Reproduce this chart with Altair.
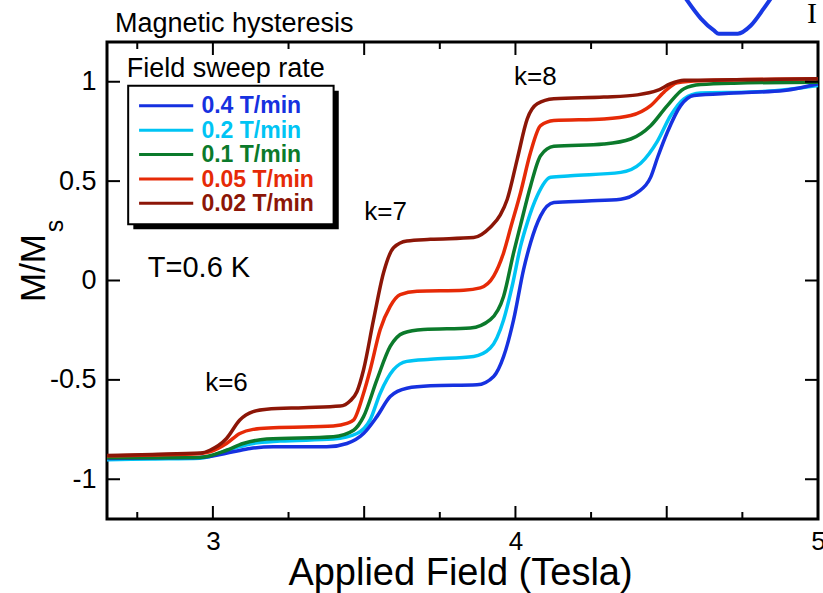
import altair as alt
import pandas as pd

FONT = "Liberation Sans"
W, H = 711, 477
X_DOMAIN = [2.65, 5.0]
Y_DOMAIN = [-1.2, 1.2]

# Sweep rates and their colours
rates = ["0.4 T/min", "0.2 T/min", "0.1 T/min", "0.05 T/min", "0.02 T/min"]
colors = ["#1631e0", "#00c4f4", "#0b7a2b", "#e62a07", "#8c1607"]

# Magnetisation curves M/Ms vs applied field (T)
field_04 = [2.65, 2.80, 2.957, 3.067, 3.123, 3.20, 3.376, 3.443, 3.498, 3.542, 3.586, 3.641,
            3.719, 3.873, 3.928, 3.961, 3.994, 4.027, 4.050, 4.083, 4.127, 4.237, 4.348, 4.403,
            4.447, 4.470, 4.502, 4.546, 4.590, 4.722, 4.888, 5.0]
m_04 = [-0.895, -0.893, -0.890, -0.862, -0.845, -0.837, -0.837, -0.820, -0.770, -0.685, -0.584, -0.542,
        -0.530, -0.525, -0.483, -0.382, -0.197, 0.056, 0.190, 0.325, 0.392, 0.400, 0.409, 0.443,
        0.520, 0.620, 0.746, 0.880, 0.931, 0.943, 0.956, 0.990]

field_02 = [2.65, 2.80, 2.957, 3.067, 3.133, 3.222, 3.398, 3.476, 3.520, 3.553, 3.597, 3.641,
            3.719, 3.862, 3.917, 3.961, 3.989, 4.017, 4.039, 4.072, 4.116, 4.182, 4.348, 4.414,
            4.469, 4.513, 4.557, 4.612, 4.778, 4.899, 5.0]
m_02 = [-0.902, -0.898, -0.894, -0.845, -0.820, -0.808, -0.798, -0.770, -0.700, -0.567, -0.449, -0.407,
        -0.396, -0.382, -0.340, -0.197, -0.029, 0.173, 0.290, 0.426, 0.519, 0.527, 0.544, 0.590,
        0.700, 0.830, 0.914, 0.943, 0.948, 0.961, 0.981]

field_01 = [2.65, 2.80, 2.957, 3.045, 3.100, 3.178, 3.398, 3.465, 3.498, 3.542, 3.586, 3.630,
            3.696, 3.851, 3.917, 3.961, 3.994, 4.017, 4.050, 4.083, 4.127, 4.292, 4.381, 4.447,
            4.502, 4.557, 4.612, 4.722, 5.0]
m_01 = [-0.892, -0.892, -0.890, -0.854, -0.820, -0.798, -0.786, -0.753, -0.685, -0.500, -0.332, -0.264,
        -0.247, -0.239, -0.197, -0.079, 0.140, 0.280, 0.476, 0.628, 0.675, 0.687, 0.712, 0.779,
        0.880, 0.965, 0.986, 0.993, 0.998]

field_005 = [2.65, 2.80, 2.96, 2.99, 3.045, 3.089, 3.133, 3.20, 3.398, 3.443, 3.465, 3.498,
             3.520, 3.553, 3.586, 3.619, 3.675, 3.829, 3.884, 3.928, 3.961, 3.985, 4.017, 4.050,
             4.083, 4.127, 4.292, 4.381, 4.447, 4.491, 4.535, 4.612, 5.0]
m_005 = [-0.882, -0.878, -0.870, -0.862, -0.820, -0.770, -0.749, -0.741, -0.732, -0.719, -0.702, -0.567,
         -0.449, -0.247, -0.130, -0.071, -0.054, -0.049, -0.037, 0.022, 0.140, 0.270, 0.443, 0.645,
         0.779, 0.805, 0.813, 0.830, 0.880, 0.948, 0.995, 1.005, 1.015]

field_002 = [2.65, 2.80, 2.96, 2.99, 3.045, 3.089, 3.133, 3.178, 3.30, 3.421, 3.454, 3.476,
             3.498, 3.531, 3.564, 3.597, 3.641, 3.719, 3.862, 3.917, 3.950, 3.973, 4.006, 4.039,
             4.072, 4.127, 4.292, 4.403, 4.469, 4.513, 4.557, 4.722, 5.0]
m_002 = [-0.880, -0.875, -0.868, -0.854, -0.795, -0.702, -0.660, -0.648, -0.640, -0.632, -0.605, -0.560,
         -0.449, -0.197, 0.039, 0.165, 0.199, 0.207, 0.216, 0.268, 0.330, 0.409, 0.611, 0.813,
         0.889, 0.914, 0.923, 0.934, 0.956, 0.990, 1.007, 1.010, 1.015]

curves = {
    "0.4 T/min": (field_04, m_04),
    "0.2 T/min": (field_02, m_02),
    "0.1 T/min": (field_01, m_01),
    "0.05 T/min": (field_005, m_005),
    "0.02 T/min": (field_002, m_002),
}
draw_order = ["0.2 T/min", "0.4 T/min", "0.1 T/min", "0.05 T/min", "0.02 T/min"]

# Edge of the neighbouring panel's curve, above the frame
edge_x = [4.563, 4.613, 4.656, 4.672, 4.735, 4.778, 4.821, 4.844]
edge_y = [1.419, 1.318, 1.258, 1.242, 1.242, 1.283, 1.369, 1.419]

# Tick positions
x_major = [3.0, 3.5, 4.0, 4.5, 5.0]
x_minor = [2.75, 3.25, 3.75, 4.25, 4.75]
y_major = [-1.0, -0.5, 0.0, 0.5, 1.0]

# Step labels
step_labels = ["k=6", "k=7", "k=8"]
step_x = [3.045, 3.571, 4.066]
step_y = [-0.556, 0.305, 0.985]

xscale = alt.Scale(domain=X_DOMAIN, nice=False, zero=False)
yscale = alt.Scale(domain=Y_DOMAIN, nice=False, zero=False)
cscale = alt.Scale(domain=rates, range=colors)

xax = alt.Axis(values=[3, 4, 5], labelExpr="'' + datum.value", ticks=False, tickSize=0,
               grid=False, domain=False, labelFlush=False, labelFont=FONT, labelFontSize=26,
               labelColor="black", labelPadding=9, title=None)
yax = alt.Axis(values=y_major, labelExpr="'' + datum.value", ticks=False, tickSize=0,
               grid=False, domain=False, labelFont=FONT, labelFontSize=27, labelColor="black",
               labelPadding=11, title=None)


def X(field):
    return alt.X(field, type="quantitative", scale=xscale, axis=xax)


def Y(field):
    return alt.Y(field, type="quantitative", scale=yscale, axis=yax)


layers = []

# Curves
for rate in draw_order:
    fx, my = curves[rate]
    d = pd.DataFrame({"field": fx, "m": my, "rate": rate})
    layers.append(
        alt.Chart(d).mark_line(strokeWidth=3.5, interpolate="monotone").encode(
            x=X("field"), y=Y("m"),
            color=alt.Color("rate:N", scale=cscale, legend=None),
        )
    )

# Inward ticks on all four sides
mx = pd.DataFrame({"v": x_major})
nx = pd.DataFrame({"v": x_minor})
my_ = pd.DataFrame({"v": y_major})
tick = dict(color="black", strokeWidth=2)
layers += [
    alt.Chart(mx).mark_rule(**tick).encode(x=X("v"), y=alt.value(H), y2=alt.value(H - 13)),
    alt.Chart(mx).mark_rule(**tick).encode(x=X("v"), y=alt.value(0), y2=alt.value(13)),
    alt.Chart(nx).mark_rule(**tick).encode(x=X("v"), y=alt.value(H), y2=alt.value(H - 7)),
    alt.Chart(nx).mark_rule(**tick).encode(x=X("v"), y=alt.value(0), y2=alt.value(7)),
    alt.Chart(my_).mark_rule(**tick).encode(y=Y("v"), x=alt.value(0), x2=alt.value(13)),
    alt.Chart(my_).mark_rule(**tick).encode(y=Y("v"), x=alt.value(W), x2=alt.value(W - 13)),
]

# Step and temperature annotations
sl = pd.DataFrame({"t": step_labels, "x": step_x, "y": step_y})
layers.append(
    alt.Chart(sl).mark_text(font=FONT, fontSize=26, align="center", baseline="alphabetic",
                            color="black").encode(x=X("x"), y=Y("y"), text="t:N")
)
temp = pd.DataFrame({"t": ["T=0.6 K"], "x": [2.785], "y": [0.02]})
layers.append(
    alt.Chart(temp).mark_text(font=FONT, fontSize=29, align="left", baseline="alphabetic",
                              color="black").encode(x=X("x"), y=Y("y"), text="t:N")
)

# Legend: title, shadowed box, sample lines and coloured labels
one = pd.DataFrame({"t": ["Field sweep rate"]})
layers.append(
    alt.Chart(one).mark_text(font=FONT, fontSize=27, align="left", baseline="alphabetic",
                             color="black")
    .transform_calculate(x="2.715", y="1.025").encode(x=X("x"), y=Y("y"), text="t:N")
)
layers.append(
    alt.Chart(one).mark_rect(color="black")
    .transform_calculate(x1="2.737", x2="3.416", y1="0.955", y2="0.258")
    .encode(x=X("x1"), x2="x2", y=Y("y1"), y2="y2")
)
layers.append(
    alt.Chart(one).mark_rect(fill="white", stroke="black", strokeWidth=2)
    .transform_calculate(x1="2.72", x2="3.399", y1="0.98", y2="0.283")
    .encode(x=X("x1"), x2="x2", y=Y("y1"), y2="y2")
)
leg = pd.DataFrame({"rate": rates, "i": list(range(len(rates)))})
layers.append(
    alt.Chart(leg).mark_rule(strokeWidth=3)
    .transform_calculate(x1="2.756", x2="2.935", y="0.879 - 0.1227 * datum.i")
    .encode(x=X("x1"), x2="x2", y=Y("y"), color=alt.Color("rate:N", scale=cscale, legend=None))
)
layers.append(
    alt.Chart(leg).mark_text(font=FONT, fontSize=23, fontWeight="bold", align="left",
                             baseline="alphabetic")
    .transform_calculate(x="2.962", y="0.879 - 0.1227 * datum.i - 0.038")
    .encode(x=X("x"), y=Y("y"), text="rate:N",
            color=alt.Color("rate:N", scale=cscale, legend=None))
)

# Curve of the neighbouring panel, outside the frame
edge = pd.DataFrame({"x": edge_x, "y": edge_y})
layers.append(
    alt.Chart(edge).mark_line(color="#1838e4", strokeWidth=4, interpolate="monotone", clip=False)
    .encode(x=X("x"), y=Y("y"))
)

# Texts outside the plot area
layers.append(
    alt.Chart(pd.DataFrame({"t": ["Magnetic hysteresis"]})).mark_text(
        font=FONT, fontSize=27, align="left", baseline="alphabetic", color="black"
    ).encode(x=alt.value(8), y=alt.value(-10), text="t:N")
)
layers.append(
    alt.Chart(pd.DataFrame({"t": ["Applied Field (Tesla)"]})).mark_text(
        font=FONT, fontSize=38, align="center", baseline="alphabetic", color="black"
    ).encode(x=alt.value(W / 2 - 2), y=alt.value(543), text="t:N")
)
layers.append(
    alt.Chart(pd.DataFrame({"t": ["M/M"]})).mark_text(
        font=FONT, fontSize=35, angle=270, align="center", baseline="alphabetic", color="black"
    ).encode(x=alt.value(-62), y=alt.value(226), text="t:N")
)
layers.append(
    alt.Chart(pd.DataFrame({"t": ["s"]})).mark_text(
        font=FONT, fontSize=25, angle=270, align="center", baseline="alphabetic", color="black"
    ).encode(x=alt.value(-44), y=alt.value(184), text="t:N")
)
layers.append(
    alt.Chart(pd.DataFrame({"t": ["I"]})).mark_text(
        font="Liberation Serif", fontSize=30, align="left", baseline="alphabetic", color="black"
    ).encode(x=alt.value(700), y=alt.value(-19), text="t:N")
)

chart = (
    alt.layer(*layers)
    .properties(width=W, height=H, autosize=alt.AutoSizeParams(type="none"),
                padding={"left": 107, "top": 42, "right": 5, "bottom": 74},
                background="white")
    .configure_view(stroke="black", strokeWidth=3)
)

chart.save("out.html", embed_options={"renderer": "svg", "actions": False})
